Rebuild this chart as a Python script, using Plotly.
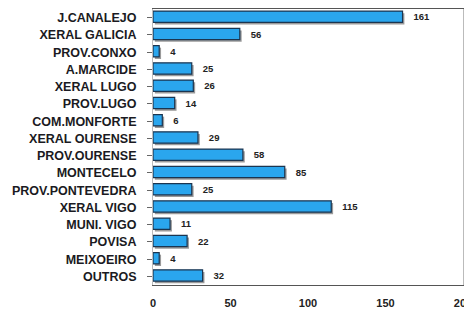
import plotly.graph_objects as go

categories = ["J.CANALEJO", "XERAL GALICIA", "PROV.CONXO", "A.MARCIDE", "XERAL LUGO",
              "PROV.LUGO", "COM.MONFORTE", "XERAL OURENSE", "PROV.OURENSE", "MONTECELO",
              "PROV.PONTEVEDRA", "XERAL VIGO", "MUNI. VIGO", "POVISA", "MEIXOEIRO", "OUTROS"]
values = [161, 56, 4, 25, 26, 14, 6, 29, 58, 85, 25, 115, 11, 22, 4, 32]
x_ticks = [0, 50, 100, 150, 200]

font_fam = "Liberation Sans, Arial, sans-serif"

fig = go.Figure()
# shadow
fig.add_trace(go.Bar(
    y=categories, x=values, orientation="h", base=1.2,
    width=0.66, offset=-0.26,
    marker=dict(color="#9a9a9a", line=dict(width=0)),
    hoverinfo="skip", showlegend=False))
# main bars
fig.add_trace(go.Bar(
    y=categories, x=values, orientation="h",
    width=0.66, offset=-0.38,
    marker=dict(color="#2aa6ee", line=dict(color="#1b3550", width=1.2)),
    text=[f"   {v}" for v in values], textposition="outside", cliponaxis=False,
    textfont=dict(family=font_fam, size=9.5, color="#222222", weight="bold"),
    showlegend=False))

# page body has an 8px margin, so the figure is sized to fit the window
fig.update_layout(
    width=464, height=303, barmode="overlay",
    margin=dict(l=145, r=9, t=1, b=26, autoexpand=False),
    paper_bgcolor="white", plot_bgcolor="white",
    xaxis=dict(range=[0, 200], tickvals=x_ticks, ticktext=[str(t) for t in x_ticks],
               showgrid=False, zeroline=False, showline=True, mirror=True,
               linecolor="#555555", linewidth=1.3, ticks="", automargin=False,
               ticklabeloverflow="allow", ticklabelstandoff=8,
               tickfont=dict(family=font_fam, size=11, color="#222222", weight="bold")),
    yaxis=dict(categoryorder="array", categoryarray=categories,
               range=[15.5, -0.5], autorange=False, automargin=False,
               showgrid=False, zeroline=False, showline=True, mirror=True,
               linecolor="#bbbbbb", linewidth=1, ticks="outside", ticklen=5,
               tickcolor="#666666", ticklabelstandoff=8,
               tickfont=dict(family=font_fam, size=12.5, color="#1a1a22", weight="bold")),
)

fig.write_html("out.html")
